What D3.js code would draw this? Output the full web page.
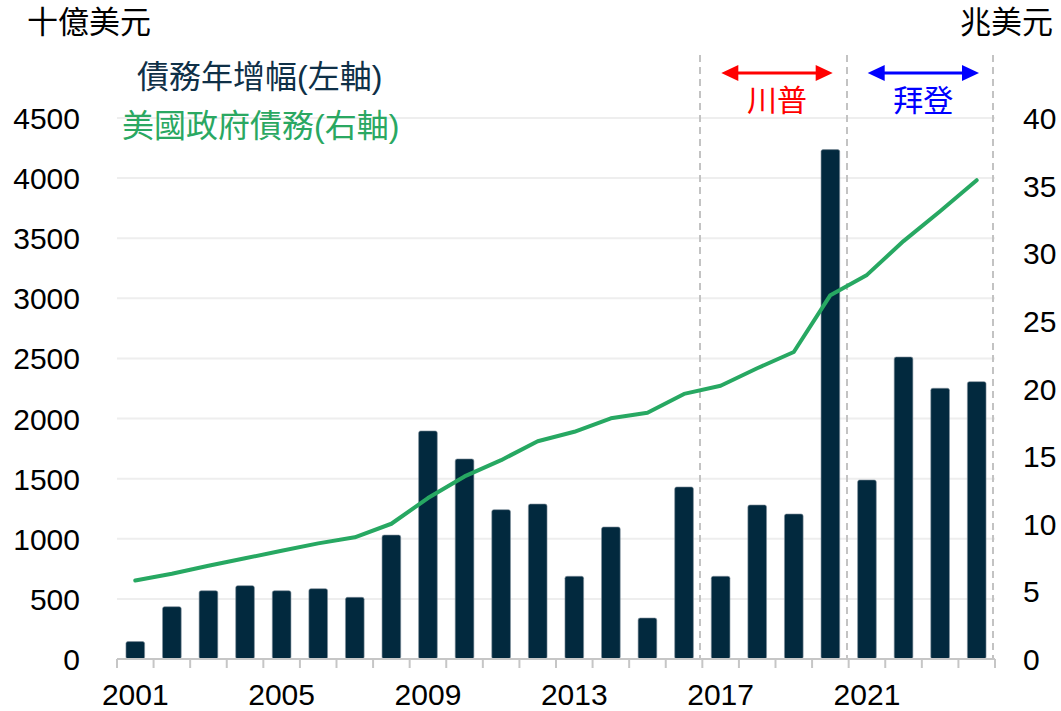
<!DOCTYPE html>
<html>
<head>
<meta charset="utf-8">
<script src="https://cdn.jsdelivr.net/npm/d3@7"></script>
<style>
  body { margin: 0; background: #fff; }
  text { font-family: "Liberation Sans", Arial, "Noto Sans CJK TC", sans-serif; }
</style>
</head>
<body>
<div id="chart"></div>
<script>
// Chart data
const years = ["2001","2002","2003","2004","2005","2006","2007","2008","2009","2010","2011","2012",
               "2013","2014","2015","2016","2017","2018","2019","2020","2021","2022","2023","2024"];
// annual increase of debt, billion USD (left axis)
const debtIncrease = [145, 435, 568, 610, 568, 585, 513, 1031, 1897, 1664, 1242, 1289,
                      688, 1098, 341, 1431, 688, 1281, 1206, 4237, 1489, 2512, 2252, 2307];
// total government debt, trillion USD (right axis)
const totalDebt = [5.8, 6.3, 6.9, 7.45, 8.0, 8.55, 9.0, 10.0, 11.9, 13.5, 14.7, 16.1,
                   16.8, 17.8, 18.2, 19.6, 20.2, 21.5, 22.7, 26.9, 28.4, 30.9, 33.1, 35.4];
const leftTicks = [0, 500, 1000, 1500, 2000, 2500, 3000, 3500, 4000, 4500];
const rightTicks = [0, 5, 10, 15, 20, 25, 30, 35, 40];
const xLabels = ["2001", "2005", "2009", "2013", "2017", "2021"];
const terms = [
  { name: "川普", start: "2017", end: "2020", color: "#ff0000" },
  { name: "拜登", start: "2021", end: "2024", color: "#0000ff" }
];

const W = 1061, H = 711;
const plotL = 117, plotR = 995, plotT = 118, plotB = 659;

const svg = d3.select("#chart")
  .append("svg")
    .attr("width", W)
    .attr("height", H);

// Scales
const x = d3.scaleBand()
  .domain(years)
  .range([plotL, plotR])
  .padding(0);
const yL = d3.scaleLinear().domain([0, 4500]).range([plotB, plotT]);
const yR = d3.scaleLinear().domain([0, 40]).range([plotB, plotT]);

// Gridlines
svg.append("g")
  .selectAll("line")
  .data(leftTicks.slice(1))
  .enter().append("line")
    .attr("x1", plotL).attr("x2", plotR)
    .attr("y1", d => yL(d)).attr("y2", d => yL(d))
    .attr("stroke", "#eeeeee")
    .attr("stroke-width", 2);

// Left axis
const axL = svg.append("g")
  .attr("transform", `translate(${plotL - 37},0)`)
  .call(d3.axisLeft(yL).tickValues(leftTicks).tickFormat(d3.format("d")).tickSize(0).tickPadding(0));
axL.select(".domain").remove();
axL.selectAll("text")
  .style("font-size", "30px")
  .style("font-family", "'Liberation Sans', Arial, sans-serif")
  .attr("fill", "#000")
  .attr("dy", "0.35em");

// Right axis
const axR = svg.append("g")
  .attr("transform", `translate(${plotR + 28},0)`)
  .call(d3.axisRight(yR).tickValues(rightTicks).tickFormat(d3.format("d")).tickSize(0).tickPadding(0));
axR.select(".domain").remove();
axR.selectAll("text")
  .style("font-size", "30px")
  .style("font-family", "'Liberation Sans', Arial, sans-serif")
  .attr("fill", "#000")
  .attr("dy", "0.35em");

// Dashed term separators
const bounds = [];
terms.forEach(t => { bounds.push(x(t.start)); bounds.push(x(t.end) + x.bandwidth()); });
svg.append("g")
  .selectAll("line")
  .data(Array.from(new Set(bounds.map(b => Math.round(b)))))
  .enter().append("line")
    .attr("x1", d => d - 2).attr("x2", d => d - 2)
    .attr("y1", 55).attr("y2", plotB)
    .attr("stroke", "#c3c3c3")
    .attr("stroke-width", 2)
    .attr("stroke-dasharray", "7,5");

// Bars
const bw = x.bandwidth() * 0.51;
svg.append("g")
  .selectAll("rect")
  .data(years)
  .enter().append("rect")
    .attr("x", d => x(d) + (x.bandwidth() - bw) / 2)
    .attr("y", (d, i) => yL(debtIncrease[i]))
    .attr("width", bw)
    .attr("height", (d, i) => plotB - yL(debtIncrease[i]))
    .attr("rx", 2)
    .attr("fill", "#02293e")
    .attr("stroke", "#7f8f9b")
    .attr("stroke-width", 0.6);

// Bottom axis with ticks at band boundaries
const axisG = svg.append("g");
axisG.append("line")
  .attr("x1", plotL).attr("x2", plotR)
  .attr("y1", plotB).attr("y2", plotB)
  .attr("stroke", "#c6c6c6")
  .attr("stroke-width", 2);
axisG.selectAll(".tk")
  .data(years.map(d => x(d)).concat([plotR]))
  .enter().append("line")
    .attr("class", "tk")
    .attr("x1", d => d).attr("x2", d => d)
    .attr("y1", plotB).attr("y2", plotB + 9)
    .attr("stroke", "#c6c6c6")
    .attr("stroke-width", 2);
axisG.selectAll(".xl")
  .data(xLabels)
  .enter().append("text")
    .attr("class", "xl")
    .attr("x", d => x(d) + x.bandwidth() / 2)
    .attr("y", 705)
    .attr("text-anchor", "middle")
    .style("font-size", "30px")
    .text(d => d);

// Debt line
svg.append("path")
  .datum(years)
  .attr("fill", "none")
  .attr("stroke", "#27a862")
  .attr("stroke-width", 4)
  .attr("stroke-linejoin", "round")
  .attr("stroke-linecap", "round")
  .attr("d", d3.line()
      .x(d => x(d) + x.bandwidth() / 2)
      .y((d, i) => yR(totalDebt[i]))
  );

// Term arrows and labels
terms.forEach(t => {
  const x0 = x(t.start) + 19, x1 = x(t.end) + x.bandwidth() - 16;
  const ay = 73, hl = 17, hh = 8;
  const g = svg.append("g");
  g.append("line")
    .attr("x1", x0 + hl - 2).attr("x2", x1 - hl + 2)
    .attr("y1", ay).attr("y2", ay)
    .attr("stroke", t.color).attr("stroke-width", 3);
  g.append("path")
    .attr("d", `M${x0},${ay}L${x0 + hl},${ay - hh}L${x0 + hl},${ay + hh}Z`)
    .attr("fill", t.color);
  g.append("path")
    .attr("d", `M${x1},${ay}L${x1 - hl},${ay - hh}L${x1 - hl},${ay + hh}Z`)
    .attr("fill", t.color);
  g.append("text")
    .attr("x", (x0 + x1) / 2)
    .attr("y", 111)
    .attr("text-anchor", "middle")
    .attr("fill", t.color)
    .style("font-size", "30px")
    .text(t.name);
});

// Units
svg.append("text")
  .attr("x", 27).attr("y", 33)
  .style("font-size", "31px")
  .text("十億美元");
svg.append("text")
  .attr("x", 1053).attr("y", 33)
  .attr("text-anchor", "end")
  .style("font-size", "31px")
  .text("兆美元");

// Legend
svg.append("text")
  .attr("x", 137).attr("y", 88)
  .attr("fill", "#0f3047")
  .style("font-size", "32px")
  .text("債務年增幅(左軸)");
svg.append("text")
  .attr("x", 122).attr("y", 137)
  .attr("fill", "#2aa862")
  .style("font-size", "32px")
  .text("美國政府債務(右軸)");
</script>
</body>
</html>
